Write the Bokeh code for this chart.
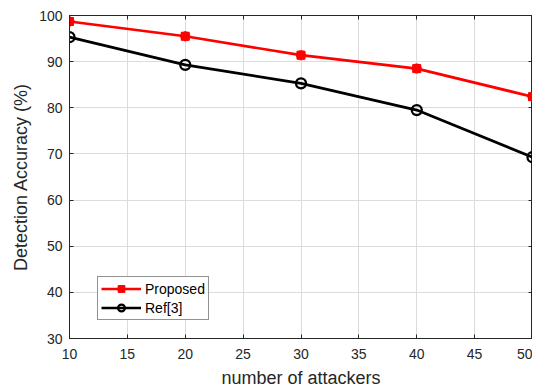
from bokeh.plotting import figure
from bokeh.models import LinearAxis, Range1d, FixedTicker, Legend, LegendItem, CustomJSTickFormatter
from bokeh.embed import file_html
from bokeh.resources import INLINE

attackers = [10, 20, 30, 40, 50]
proposed = [98.7, 95.5, 91.4, 88.5, 82.4]
ref3 = [95.3, 89.3, 85.3, 79.5, 69.3]
x_ticks = [10, 15, 20, 25, 30, 35, 40, 45, 50]
y_ticks = [30, 40, 50, 60, 70, 80, 90, 100]

FONT = "Liberation Sans"
TXT = "#262626"

p = figure(width=523, height=371, output_backend="svg", toolbar_location=None,
           x_range=Range1d(10, 50), y_range=Range1d(30, 100),
           min_border_left=69, min_border_top=15, min_border_right=0, min_border_bottom=0,
           frame_width=463, frame_height=323,
           x_axis_label="number of attackers", y_axis_label="Detection Accuracy (%)")
p.outline_line_color=TXT
p.outline_line_width=1
p.outline_line_alpha=1
p.background_fill_color="white"
p.border_fill_color="white"

for ax in (p.xaxis[0], p.yaxis[0]):
    ax.major_label_text_font = FONT
    ax.major_label_text_font_size = "14px"
    ax.major_label_text_color = TXT
    ax.axis_label_text_font = FONT
    ax.axis_label_text_font_size = "18px"
    ax.axis_label_text_font_style = "normal"
    ax.axis_label_text_color = TXT
    ax.axis_line_color = TXT
    ax.major_tick_line_color = TXT
    ax.major_tick_in = 4
    ax.major_tick_out = 0
    ax.minor_tick_line_color = None
p.xaxis[0].ticker = FixedTicker(ticks=x_ticks)
p.yaxis[0].ticker = FixedTicker(ticks=y_ticks)
p.xaxis[0].major_label_standoff = 10
p.xaxis[0].axis_label_standoff = 6
p.yaxis[0].major_label_standoff = 7
p.yaxis[0].axis_label_standoff = 5

for loc, tk in (("right", y_ticks), ("above", x_ticks)):
    a = LinearAxis(ticker=FixedTicker(ticks=tk), formatter=CustomJSTickFormatter(code="return ''"),
                   major_label_standoff=0, major_tick_in=4, major_tick_out=0,
                   axis_line_color=TXT, major_tick_line_color=TXT,
                   minor_tick_line_color=None)
    p.add_layout(a, loc)

p.xgrid.grid_line_color = "#dcdcdc"
p.ygrid.grid_line_color = "#dcdcdc"
p.xgrid.ticker = FixedTicker(ticks=x_ticks)
p.ygrid.ticker = FixedTicker(ticks=y_ticks)

r1 = p.line(attackers, proposed, line_color="red", line_width=2.7)
m1 = p.scatter(attackers, proposed, marker="asterisk", size=10, line_color="red", line_width=3)
m1b = p.scatter(attackers, proposed, marker="square", size=8, fill_color="red", line_color="red")
r2 = p.line(attackers, ref3, line_color="black", line_width=2.7)
m2 = p.scatter(attackers, ref3, marker="circle", size=10, fill_color=None, line_color="black", line_width=2.3)

legend = Legend(items=[LegendItem(label="Proposed", renderers=[r1, m1, m1b]),
                       LegendItem(label="Ref[3]", renderers=[r2, m2])],
                location=(28, 18), border_line_color=TXT, border_line_width=1,
                label_text_font=FONT, label_text_font_size="14px", label_text_color="black",
                glyph_width=40, glyph_height=17, label_height=17, spacing=2,
                padding=3, margin=0, label_standoff=4, background_fill_alpha=1)
p.add_layout(legend, "center")

open("out.html", "w").write(file_html(p, INLINE))
